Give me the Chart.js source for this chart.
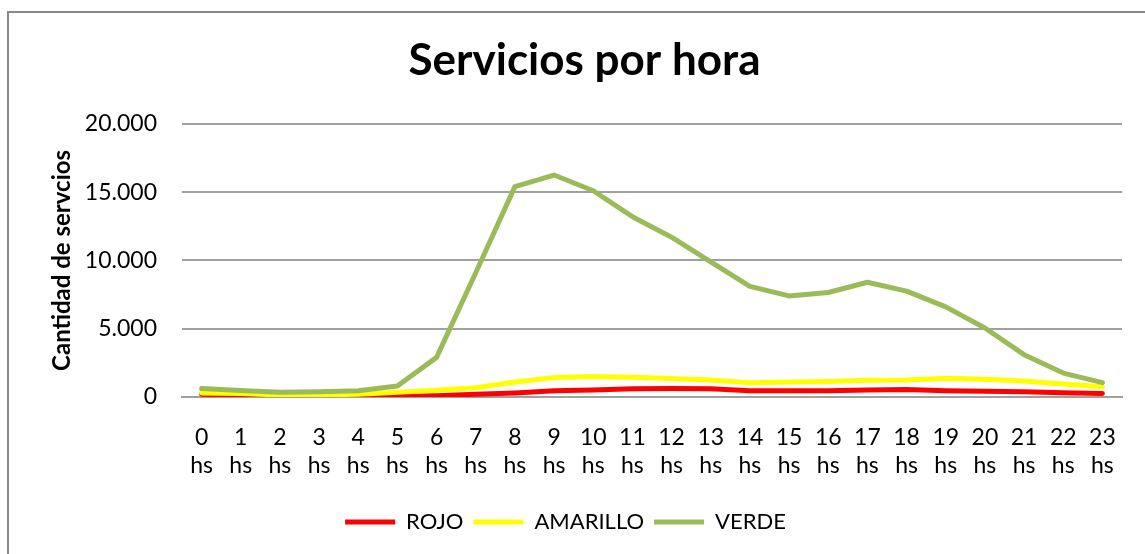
<!DOCTYPE html>
<html>
<head>
<meta charset="utf-8">
<script src="https://cdn.jsdelivr.net/npm/chart.js@4/dist/chart.umd.min.js"></script>
<style>
html,body{margin:0;padding:0;background:#fff;}
#wrap{position:relative;width:1145px;height:554px;}
</style>
</head>
<body>
<div id="wrap"><canvas id="c" width="1145" height="554"></canvas></div>
<script>
const hours = [0,1,2,3,4,5,6,7,8,9,10,11,12,13,14,15,16,17,18,19,20,21,22,23];
const rojo = [200,120,60,40,40,60,100,200,300,450,520,600,620,600,460,450,450,520,540,460,430,380,320,260];
const amarillo = [300,250,150,150,200,350,500,680,1100,1420,1500,1440,1350,1250,1050,1100,1130,1220,1240,1370,1300,1170,950,750];
const verde = [620,480,350,380,450,800,2900,9100,15400,16250,15100,13200,11700,9900,8100,7400,7650,8400,7750,6600,5050,3100,1750,1050];
const seriesNames = ['ROJO','AMARILLO','VERDE'];
const seriesColors = ['#FF0000','#FFFF00','#9BBB59'];
const yTicks = [0,5000,10000,15000,20000];

const labels = hours.map(h => [String(h), 'hs']);
const fmt = v => String(v).replace(/\B(?=(\d{3})+(?!\d))/g, '.');

const borderPlugin = {
  id: 'outerBorder',
  beforeDraw(chart) {
    const ctx = chart.ctx;
    ctx.save();
    ctx.fillStyle = '#fff';
    ctx.fillRect(0, 0, chart.width, chart.height);
    ctx.strokeStyle = '#888888';
    ctx.lineWidth = 2;
    ctx.strokeRect(8, 12, 1200, 600);
    ctx.restore();
  }
};

const legendShift = {
  id: 'legendShift',
  afterLayout(chart) {
    const lg = chart.legend;
    if (lg) { lg.left -= 19; lg.right -= 19; lg.top += 1; lg.bottom += 1; }
  }
};

const data = [rojo, amarillo, verde];
new Chart(document.getElementById('c'), {
  type: 'line',
  data: {
    labels: labels,
    datasets: data.map((d, i) => ({
      label: seriesNames[i],
      data: d,
      borderColor: seriesColors[i],
      backgroundColor: seriesColors[i],
      borderWidth: 5,
      pointRadius: 0,
      tension: 0,
      fill: false,
      order: 3 - i,
      borderCapStyle: 'round',
      borderJoinStyle: 'round'
    }))
  },
  options: {
    responsive: false,
    animation: false,
    devicePixelRatio: 1,
    layout: { padding: { left: 47, right: 23, top: 0, bottom: 12 } },
    plugins: {
      tooltip: { enabled: false },
      title: {
        display: true,
        text: 'Servicios por hora',
        color: '#000',
        font: { family: 'Lato', size: 44, weight: 'bold', lineHeight: 1.2 },
        padding: { top: 34, bottom: 37 }
      },
      legend: {
        position: 'bottom',
        labels: {
          color: '#000',
          font: { family: 'Lato', size: 22 },
          boxWidth: 50,
          boxHeight: 5,
          padding: 10,
          sort: (a, b) => a.datasetIndex - b.datasetIndex,
          generateLabels(chart) {
            const items = Chart.defaults.plugins.legend.labels.generateLabels(chart);
            items.forEach(it => { it.lineWidth = 0; it.fillStyle = seriesColors[it.datasetIndex]; });
            return items;
          }
        }
      }
    },
    scales: {
      x: {
        offset: true,
        grid: { display: false, drawTicks: false, offset: true },
        border: { display: true, color: '#a0a0a0', width: 2 },
        ticks: {
          color: '#000',
          font: { family: 'Lato', size: 23, lineHeight: 1.24 },
          padding: 26,
          maxRotation: 0,
          autoSkip: false
        },
        afterFit(scale) { scale.height = 103; }
      },
      y: {
        min: 0,
        max: 20000,
        afterBuildTicks(scale) { scale.ticks = yTicks.map(v => ({ value: v })); },
        grid: { color: '#a0a0a0', lineWidth: 2, drawTicks: false },
        border: { display: false },
        ticks: {
          color: '#000',
          font: { family: 'Lato', size: 23 },
          padding: 25,
          callback: v => fmt(v)
        },
        title: {
          display: true,
          text: 'Cantidad de servcios',
          color: '#000',
          font: { family: 'Lato', size: 24, weight: 'bold', lineHeight: 1.2 },
          padding: { top: 1, bottom: 0 }
        },
        afterFit(scale) { scale.width = 135; }
      }
    }
  },
  plugins: [borderPlugin, legendShift]
});
</script>
</body>
</html>
